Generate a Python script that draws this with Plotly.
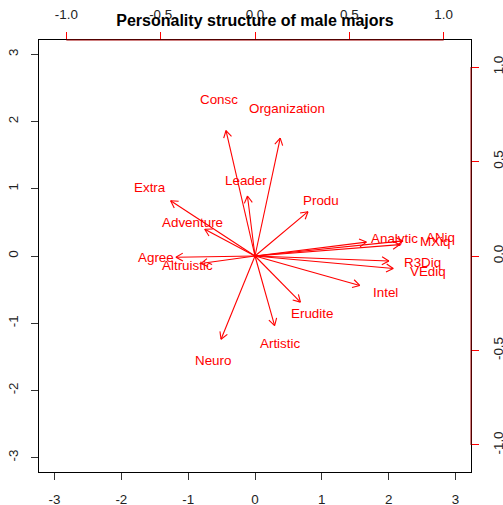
import math
import plotly.graph_objects as go

# ---- data: variable loadings (top/right axis units) ----
variables = ["Consc", "Organization", "Leader", "Produ", "Extra", "Adventure",
             "Agree", "Altruistic", "Analytic", "ANiq", "MXiq", "R3Diq",
             "VEdiq", "Intel", "Erudite", "Artistic", "Neuro"]
load_x = [-0.192, 0.167, -0.050, 0.351, -0.559, -0.333,
          -0.524, -0.360, 0.738, 0.981, 0.959, 0.887,
          0.916, 0.694, 0.301, 0.130, -0.225]
load_y = [0.830, 0.780, 0.397, 0.293, 0.365, 0.177,
          -0.008, -0.050, 0.092, 0.100, 0.075, -0.033,
          -0.083, -0.195, -0.305, -0.461, -0.551]

title = "Personality structure of male majors"
bottom_ticks = [-3, -2, -1, 0, 1, 2, 3]
left_ticks = [-3, -2, -1, 0, 1, 2, 3]
top_ticks = [-1.0, -0.5, 0.0, 0.5, 1.0]
right_ticks = [-1.0, -0.5, 0.0, 0.5, 1.0]

# ---- layout geometry ----
W, H = 503, 505
ML, MR, MT, MB = 39, 32, 40, 33
pw, ph = W - ML - MR, H - MT - MB
xr = 3.232
yr = 3.214
x2r = 1.145
y2r = 1.143
sx = pw / (2 * x2r)   # px per unit on top axis
sy = ph / (2 * y2r)   # px per unit on right axis

RED = "#ff0000"
FONT = "Liberation Sans, Arial, sans-serif"
fig = go.Figure()

# invisible trace to activate the primary axes
fig.add_trace(go.Scatter(x=[0], y=[0], mode="markers", marker=dict(opacity=0),
                         hoverinfo="skip", showlegend=False, xaxis="x", yaxis="y"))

head_len = 8.0  # px
head_ang = math.radians(30)
for name, lx, ly in zip(variables, load_x, load_y):
    ex, ey = 0.8 * lx, 0.8 * ly
    dxp, dyp = ex * sx, ey * sy
    ang = math.atan2(dyp, dxp)
    xs = [0, ex, None]
    ys = [0, ey, None]
    for s in (1, -1):
        a = ang + math.pi + s * head_ang
        hx = ex + head_len * math.cos(a) / sx
        hy = ey + head_len * math.sin(a) / sy
        xs += [ex, hx, None]
        ys += [ey, hy, None]
    fig.add_trace(go.Scatter(x=xs, y=ys, mode="lines",
                             line=dict(color=RED, width=1.1),
                             hoverinfo="skip", showlegend=False,
                             xaxis="x2", yaxis="y2"))

annotations = [
    dict(x=lx, y=ly, xref="x2", yref="y2", text=name, showarrow=False,
         xanchor="center", yanchor="middle",
         font=dict(color=RED, size=13.4, family=FONT))
    for name, lx, ly in zip(variables, load_x, load_y)
]

tickfont = dict(size=13.4, color="#222222", family=FONT)
common = dict(ticks="outside", ticklen=7, tickwidth=1, showgrid=False,
              zeroline=False, tickfont=tickfont, automargin=False, fixedrange=True)

fig.update_layout(
    width=W, height=H,
    margin=dict(l=ML, r=MR, t=MT, b=MB, pad=0, autoexpand=False),
    paper_bgcolor="white", plot_bgcolor="white",
    showlegend=False,
    annotations=annotations,
    title=dict(text="<b>" + title + "</b>", x=(ML + pw / 2) / W, xanchor="center",
               y=1 - 20 / H, yanchor="middle", automargin=False,
               font=dict(size=16, color="black", family=FONT)),
    xaxis=dict(range=[-xr, xr], tickvals=bottom_ticks,
               ticktext=[str(v) for v in bottom_ticks], tickcolor="#333333",
               showline=True, linecolor="black", linewidth=1, mirror=True,
               ticklabelstandoff=8, **common),
    yaxis=dict(range=[-yr, yr], tickvals=left_ticks,
               ticktext=[str(v) for v in left_ticks], tickcolor="#333333",
               showline=True, linecolor="black", linewidth=1, mirror=True,
               tickangle=-90, ticklabelstandoff=8, **common),
    xaxis2=dict(range=[-x2r, x2r], overlaying="x", side="top", anchor="y",
                tickvals=top_ticks, ticktext=[f"{v:.1f}" for v in top_ticks],
                tickcolor=RED, showline=False, ticklabelstandoff=8, **common),
    yaxis2=dict(range=[-y2r, y2r], overlaying="y", side="right", anchor="x",
                tickvals=right_ticks, ticktext=[f"{v:.1f}" for v in right_ticks],
                tickcolor=RED, showline=False, tickangle=-90,
                ticklabelstandoff=8, **common),
    shapes=[
        dict(type="line", xref="x2", yref="paper", x0=top_ticks[0], x1=top_ticks[-1],
             y0=1, y1=1, line=dict(color="#a00000", width=1)),
        dict(type="line", xref="paper", yref="y2", x0=1, x1=1,
             y0=right_ticks[0], y1=right_ticks[-1], line=dict(color="#a00000", width=1)),
    ],
)

fig.write_html("out.html", config={"displayModeBar": False},
               post_script="document.body.style.margin='0';document.body.style.padding='0';")
